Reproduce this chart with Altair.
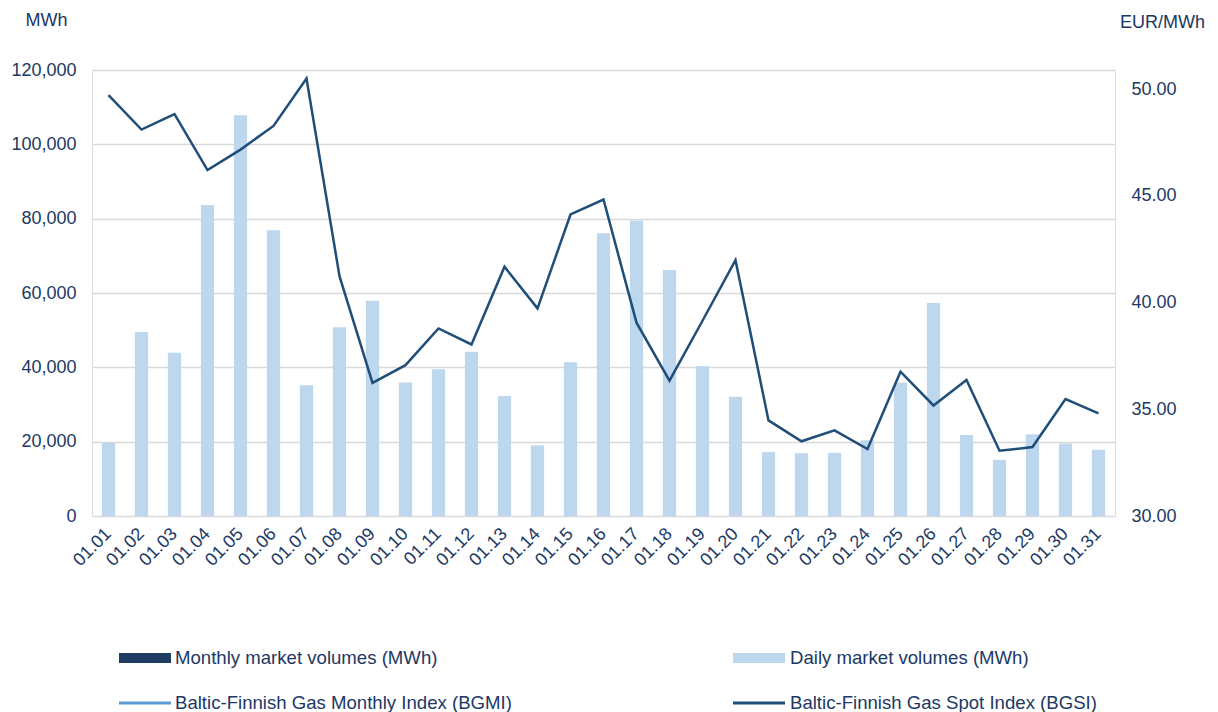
import altair as alt
import pandas as pd

dates = ["01.%02d" % d for d in range(1, 32)]
daily_volumes = [19700, 49500, 43900, 83700, 107800, 76900, 35200, 50800, 57900, 35900,
                 39500, 44200, 32300, 19000, 41400, 76100, 79500, 66200, 40300, 32100,
                 17200, 16900, 17000, 20400, 35900, 57300, 21800, 15100, 22000, 19500, 17800]
spot_index = [49.72, 48.11, 48.83, 46.21, 47.17, 48.28, 50.50, 41.24, 36.24, 37.07,
              38.79, 38.04, 41.68, 39.73, 44.13, 44.83, 39.06, 36.34, 39.15, 41.99,
              34.48, 33.50, 34.01, 33.14, 36.76, 35.18, 36.37, 33.06, 33.23, 35.48, 34.81]
legend_labels = ["Monthly market volumes (MWh)", "Daily market volumes (MWh)",
                 "Baltic-Finnish Gas Monthly Index (BGMI)", "Baltic-Finnish Gas Spot Index (BGSI)"]
left_ticks = [0, 20000, 40000, 60000, 80000, 100000, 120000]
right_ticks = [30, 35, 40, 45, 50]

TEXT = "#203864"
BAR = "#BDD7EE"
LINE = "#1F4E79"
MONTHLY = "#1F3D63"
BGMI = "#5B9BD5"
FONT = "Liberation Sans"

df = pd.DataFrame({"date": dates, "volume": daily_volumes, "index": spot_index})

x = alt.X("date:N", sort=dates, title=None,
          scale=alt.Scale(paddingInner=0.6, paddingOuter=0.3),
          axis=alt.Axis(labelAngle=-45, labelAlign="right", labelBaseline="middle",
                        labelFontSize=18, labelColor=TEXT, ticks=False,
                        domain=False, labelPadding=15, labelFont=FONT))

bars = alt.Chart(df).mark_bar(color=BAR).encode(
    x=x,
    y=alt.Y("volume:Q", scale=alt.Scale(domain=[0, 120000], nice=False),
            axis=alt.Axis(values=left_ticks, format=",.0f", title="MWh", titleAngle=0,
                          titleX=-46, titleY=-50, titleAlign="center", titleBaseline="middle",
                          titleFontSize=18, titleFontWeight="normal", titleColor=TEXT, titleFont=FONT,
                          grid=True, gridColor="#D9D9D9", gridWidth=1.5, domain=False, ticks=False,
                          labelPadding=16, labelFontSize=18, labelColor=TEXT, labelFont=FONT)),
)

line = alt.Chart(df).mark_line(color=LINE, strokeWidth=2.5).encode(
    x=x,
    y=alt.Y("index:Q", scale=alt.Scale(domain=[30, 50.9], nice=False, zero=False),
            axis=alt.Axis(orient="right", values=right_ticks, format=".2f", title="EUR/MWh",
                          titleAngle=0, titleX=47, titleY=-48, titleAlign="center",
                          titleBaseline="middle", titleFontSize=18, titleFontWeight="normal",
                          titleColor=TEXT, titleFont=FONT, grid=False, domain=False, ticks=False,
                          labelPadding=16, labelFontSize=18, labelColor=TEXT, labelFont=FONT)),
)


def one(label):
    return alt.Chart(pd.DataFrame({"label": [label]}))


leg_text_kw = dict(align="left", baseline="middle", fontSize=18.6, color=TEXT, font=FONT)
legend = [
    one(legend_labels[0]).mark_rect(color=MONTHLY).encode(
        x=alt.value(27), x2=alt.value(79), y=alt.value(583), y2=alt.value(593)),
    one(legend_labels[0]).mark_text(**leg_text_kw).encode(
        x=alt.value(83), y=alt.value(588), text="label:N"),
    one(legend_labels[1]).mark_rect(color=BAR).encode(
        x=alt.value(641), x2=alt.value(693), y=alt.value(583), y2=alt.value(593)),
    one(legend_labels[1]).mark_text(**leg_text_kw).encode(
        x=alt.value(698), y=alt.value(588), text="label:N"),
    one(legend_labels[2]).mark_rule(color=BGMI, strokeWidth=3).encode(
        x=alt.value(27), x2=alt.value(79), y=alt.value(633)),
    one(legend_labels[2]).mark_text(**leg_text_kw).encode(
        x=alt.value(83), y=alt.value(633), text="label:N"),
    one(legend_labels[3]).mark_rule(color=LINE, strokeWidth=3).encode(
        x=alt.value(641), x2=alt.value(693), y=alt.value(633)),
    one(legend_labels[3]).mark_text(**leg_text_kw).encode(
        x=alt.value(698), y=alt.value(633), text="label:N"),
]

chart = alt.layer(bars, line, *legend).resolve_scale(y="independent").properties(
    width=1023, height=446,
    autosize=alt.AutoSizeParams(type="none"),
    padding={"left": 84, "top": 62, "right": 90, "bottom": 196},
).configure_view(stroke=None).configure(font=FONT)

chart.save("out.html", embed_options={"renderer": "svg", "actions": False})
